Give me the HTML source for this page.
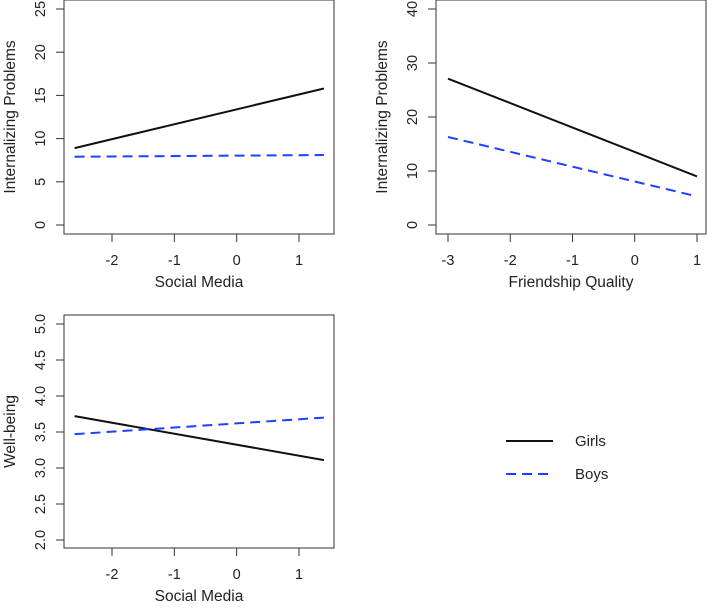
<!DOCTYPE html>
<html><head><meta charset="utf-8"><style>
body{margin:0;background:#fff}
svg{display:block;font-family:"Liberation Sans",Arial,sans-serif}
</style></head><body>
<svg id="chart" width="708" height="608" viewBox="0 0 708 608" xmlns="http://www.w3.org/2000/svg"></svg>
<script>
// Panel data
const p1XTicks = [-2, -1, 0, 1];
const p1YTicks = [0, 5, 10, 15, 20, 25];
const p1X = [-2.6, 1.4];
const p1Girls = [8.9, 15.8];
const p1Boys = [7.9, 8.1];

const p2XTicks = [-3, -2, -1, 0, 1];
const p2YTicks = [0, 10, 20, 30, 40];
const p2X = [-3, 1];
const p2Girls = [27.1, 9.0];
const p2Boys = [16.3, 5.3];

const p3XTicks = [-2, -1, 0, 1];
const p3YTicks = [2.0, 2.5, 3.0, 3.5, 4.0, 4.5, 5.0];
const p3YLabels = ["2.0","2.5","3.0","3.5","4.0","4.5","5.0"];
const p3X = [-2.6, 1.4];
const p3Girls = [3.72, 3.11];
const p3Boys = [3.47, 3.70];

const svg = document.getElementById('chart');
const NS = 'http://www.w3.org/2000/svg';
function mk(tag, attrs, parent){const e=document.createElementNS(NS,tag);for(const k in attrs)e.setAttribute(k,attrs[k]);(parent||svg).appendChild(e);return e;}

function panel(cfg){
  const g = mk('g',{});
  
  
  const sx = v => cfg.px0 + (v - cfg.xv0) * (cfg.px1 - cfg.px0) / (cfg.xv1 - cfg.xv0);
  const sy = v => cfg.py0 + (v - cfg.yv0) * (cfg.py1 - cfg.py0) / (cfg.yv1 - cfg.yv0);
  const box = mk('rect',{x:cfg.L,y:cfg.T,width:cfg.R-cfg.L,height:cfg.B-cfg.T,fill:'none',stroke:'#333','stroke-width':1},g);
  
  
  cfg.xticks.forEach(v=>{
    const x=sx(v);
    mk('line',{x1:x,x2:x,y1:cfg.B,y2:cfg.B+8,stroke:'#333'},g);
    const t=mk('text',{x:x,y:cfg.B+31,'text-anchor':'middle','font-size':14.5,fill:'#222'},g);
    t.textContent=String(v);
    
    
  });
  cfg.yticks.forEach((v,i)=>{
    const y=sy(v);
    mk('line',{x1:cfg.L-8,x2:cfg.L,y1:y,y2:y,stroke:'#333'},g);
    const tx=cfg.L-19;
    const t=mk('text',{x:tx,y:y,'text-anchor':'middle','font-size':14.5,fill:'#222',transform:`rotate(-90 ${tx} ${y})`},g);
    t.textContent=cfg.ylabels?cfg.ylabels[i]:String(v);
    
    
  });
  const xt=mk('text',{x:(cfg.L+cfg.R)/2,y:cfg.B+53,'text-anchor':'middle','font-size':15.5,fill:'#222'},g);
  xt.textContent=cfg.xtitle;
  
  
  const yx=cfg.L-49, yy=(cfg.T+cfg.B)/2;
  const yt=mk('text',{x:yx,y:yy,'text-anchor':'middle','font-size':15.5,fill:'#222',transform:`rotate(-90 ${yx} ${yy})`},g);
  yt.textContent=cfg.ytitle;
  
  
  const gl=mk('line',{x1:sx(cfg.xs[0]),x2:sx(cfg.xs[1]),y1:sy(cfg.girls[0]),y2:sy(cfg.girls[1]),stroke:'#111','stroke-width':2},g);
  
  
  const bl=mk('line',{x1:sx(cfg.xs[0]),x2:sx(cfg.xs[1]),y1:sy(cfg.boys[0]),y2:sy(cfg.boys[1]),stroke:'#2040ff','stroke-width':2,'stroke-dasharray':'10 6'},g);
  
  
}

panel({name:'panel-social-media-internalizing',L:64,R:334,T:0,B:234,px0:112,px1:299,xv0:-2,xv1:1,py0:225,py1:9,yv0:0,yv1:25,
  xticks:p1XTicks,yticks:p1YTicks,xs:p1X,girls:p1Girls,boys:p1Boys,xtitle:'Social Media',ytitle:'Internalizing Problems'});
panel({name:'panel-friendship-internalizing',L:436,R:706,T:0,B:234,px0:448,px1:697,xv0:-3,xv1:1,py0:225,py1:9,yv0:0,yv1:40,
  xticks:p2XTicks,yticks:p2YTicks,xs:p2X,girls:p2Girls,boys:p2Boys,xtitle:'Friendship Quality',ytitle:'Internalizing Problems'});
panel({name:'panel-social-media-wellbeing',L:64,R:334,T:315,B:548,px0:112,px1:299,xv0:-2,xv1:1,py0:540,py1:324,yv0:2,yv1:5,
  xticks:p3XTicks,yticks:p3YTicks,ylabels:p3YLabels,xs:p3X,girls:p3Girls,boys:p3Boys,xtitle:'Social Media',ytitle:'Well-being'});

// Legend
const lg=mk('g',{});


const l1=mk('line',{x1:506,x2:553,y1:441,y2:441,stroke:'#111','stroke-width':2},lg);


const t1=mk('text',{x:575,y:446,'font-size':15,fill:'#222'},lg);t1.textContent='Girls';


const l2=mk('line',{x1:506,x2:553,y1:474,y2:474,stroke:'#2040ff','stroke-width':2,'stroke-dasharray':'10 6'},lg);


const t2=mk('text',{x:575,y:479,'font-size':15,fill:'#222'},lg);t2.textContent='Boys';


</script>
</body></html>
